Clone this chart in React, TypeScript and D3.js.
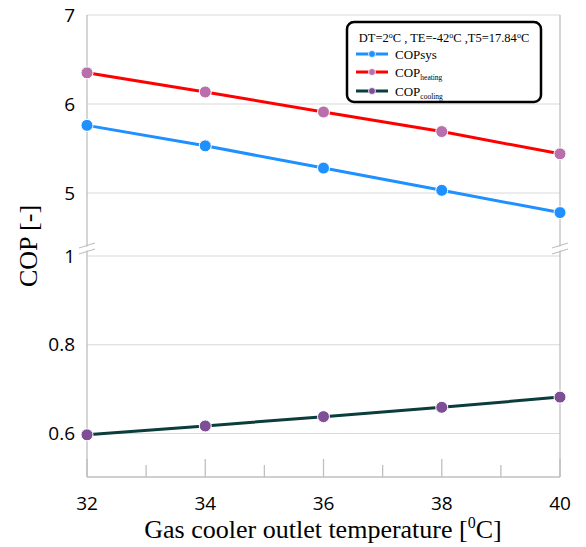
import React from "react";
import * as d3 from "d3";

const temps = [32, 34, 36, 38, 40];
const copSys = [5.76, 5.53, 5.28, 5.03, 4.78];
const copHeating = [6.35, 6.135, 5.91, 5.69, 5.44];
const copCooling = [0.597, 0.617, 0.638, 0.659, 0.682];
const upperTicks = [5, 6, 7];
const lowerTicks = [0.6, 0.8, 1];
const xMajor = [32, 34, 36, 38, 40];
const xMinor = [33, 35, 37, 39];

const W = 586, H = 547;
const L = 87, R = 560, T = 15, B = 477;
const BREAK_Y = 246;

export default function App() {
  const x = d3.scaleLinear().domain([32, 40]).range([L, R]);
  const yU = d3.scaleLinear().domain([5, 7]).range([193, T]);
  const yL = d3.scaleLinear().domain([0.6, 1]).range([433.5, 256]);

  const lineU = d3.line<number>().x((_, i) => x(temps[i])).y((d) => yU(d));
  const lineL = d3.line<number>().x((_, i) => x(temps[i])).y((d) => yL(d));

  const series = [
    { vals: copSys, line: lineU, y: yU, stroke: "#1e90ff", marker: "#1e90ff" },
    { vals: copHeating, line: lineU, y: yU, stroke: "#ff0000", marker: "#b96fab" },
    { vals: copCooling, line: lineL, y: yL, stroke: "#0a3d3b", marker: "#7e4e96" },
  ];

  const grid = "#d9d9d9";
  const axisC = "#bfbfbf";
  const sans = "'Open Sans', 'Liberation Sans', sans-serif";
  const serif = "'Liberation Serif', 'Times New Roman', serif";

  const breakMark = (cx: number) => (
    <g key={"br" + cx}>
      <polygon
        points={`${cx - 8},${BREAK_Y + 3} ${cx + 8},${BREAK_Y - 2} ${cx + 8},${BREAK_Y + 2} ${cx - 8},${BREAK_Y + 7}`}
        fill="#fff"
      />
      <line x1={cx - 8} y1={BREAK_Y + 2} x2={cx + 8} y2={BREAK_Y - 3} stroke={axisC} strokeWidth={1.2} />
      <line x1={cx - 8} y1={BREAK_Y + 8} x2={cx + 8} y2={BREAK_Y + 3} stroke={axisC} strokeWidth={1.2} />
    </g>
  );

  const legendRows = [
    { name: "COPsys", sub: "", stroke: "#1e90ff", marker: "#1e90ff", y: 54 },
    { name: "COP", sub: "heating", stroke: "#ff0000", marker: "#b96fab", y: 72 },
    { name: "COP", sub: "cooling", stroke: "#0a3d3b", marker: "#7e4e96", y: 91 },
  ];

  return (
    <svg width={W} height={H} style={{ position: "absolute", left: 0, top: 0, background: "#fff" }}>
      <rect width={W} height={H} fill="#fff" />
      {/* gridlines */}
      {upperTicks.map((t) => (
        <line key={"gu" + t} x1={L} x2={R} y1={yU(t)} y2={yU(t)} stroke={grid} strokeWidth={1.2} />
      ))}
      {lowerTicks.map((t) => (
        <line key={"gl" + t} x1={L} x2={R} y1={yL(t)} y2={yL(t)} stroke={grid} strokeWidth={1.2} />
      ))}
      {/* axes */}
      <line x1={L} x2={L} y1={T} y2={B} stroke={axisC} strokeWidth={1.3} />
      <line x1={R} x2={R} y1={T} y2={B} stroke={axisC} strokeWidth={1.3} />
      <line x1={L} x2={R} y1={B} y2={B} stroke={axisC} strokeWidth={1.3} />
      {xMajor.map((t) => (
        <line key={"xm" + t} x1={x(t)} x2={x(t)} y1={B} y2={B - 18} stroke={axisC} strokeWidth={1.3} />
      ))}
      {xMinor.map((t) => (
        <line key={"xn" + t} x1={x(t)} x2={x(t)} y1={B} y2={B - 12} stroke={axisC} strokeWidth={1.3} />
      ))}
      {breakMark(L)}
      {breakMark(R)}
      {/* tick labels */}
      {upperTicks.map((t) => (
        <text key={"lu" + t} x={75} y={yU(t)} dy="0.35em" textAnchor="end" fontFamily={sans} fontSize={19} fill="#000">
          {t}
        </text>
      ))}
      {lowerTicks.map((t) => (
        <text key={"ll" + t} x={75} y={yL(t)} dy="0.35em" textAnchor="end" fontFamily={sans} fontSize={19} fill="#000">
          {t}
        </text>
      ))}
      {xMajor.map((t) => (
        <text key={"lx" + t} x={x(t)} y={503} dy="0.35em" textAnchor="middle" fontFamily={sans} fontSize={19} fill="#000">
          {t}
        </text>
      ))}
      {/* axis titles */}
      <text x={323} y={538} textAnchor="middle" fontFamily={serif} fontSize={26} fill="#000">
        Gas cooler outlet temperature [
        <tspan fontSize={16} dy={-10}>0</tspan>
        <tspan dy={10}>C]</tspan>
      </text>
      <text transform="translate(37,246) rotate(-90)" textAnchor="middle" fontFamily={serif} fontSize={26} fill="#000">
        COP [-]
      </text>
      {/* series */}
      {series.map((s, k) => (
        <g key={"s" + k}>
          <path d={s.line(s.vals) || ""} fill="none" stroke={s.stroke} strokeWidth={3} />
          {s.vals.map((v, i) => (
            <circle key={i} cx={x(temps[i])} cy={s.y(v)} r={6} fill={s.marker} stroke="#fff" strokeWidth={1} />
          ))}
        </g>
      ))}
      {/* legend */}
      <rect x={347} y={22} width={194} height={80} rx={7} fill="#fff" stroke="#000" strokeWidth={2.5} />
      <text x={444} y={42} textAnchor="middle" fontFamily={serif} fontSize={12.5} fill="#000">
        DT=2
        <tspan fontSize={8} dy={-4}>o</tspan>
        <tspan dy={4}>C , TE=-42</tspan>
        <tspan fontSize={8} dy={-4}>o</tspan>
        <tspan dy={4}>C ,T5=17.84</tspan>
        <tspan fontSize={8} dy={-4}>o</tspan>
        <tspan dy={4}>C</tspan>
      </text>
      {legendRows.map((r) => (
        <g key={r.name + r.sub}>
          <line x1={356} x2={388} y1={r.y} y2={r.y} stroke={r.stroke} strokeWidth={3} />
          <circle cx={372} cy={r.y} r={3.5} fill={r.marker} stroke="#fff" strokeWidth={0.8} />
          <text x={395} y={r.y + 4.5} fontFamily={serif} fontSize={13} fill="#000">
            {r.name}
            {r.sub ? (
              <tspan fontSize={7.5} dy={3}>{r.sub}</tspan>
            ) : null}
          </text>
        </g>
      ))}
    </svg>
  );
}
